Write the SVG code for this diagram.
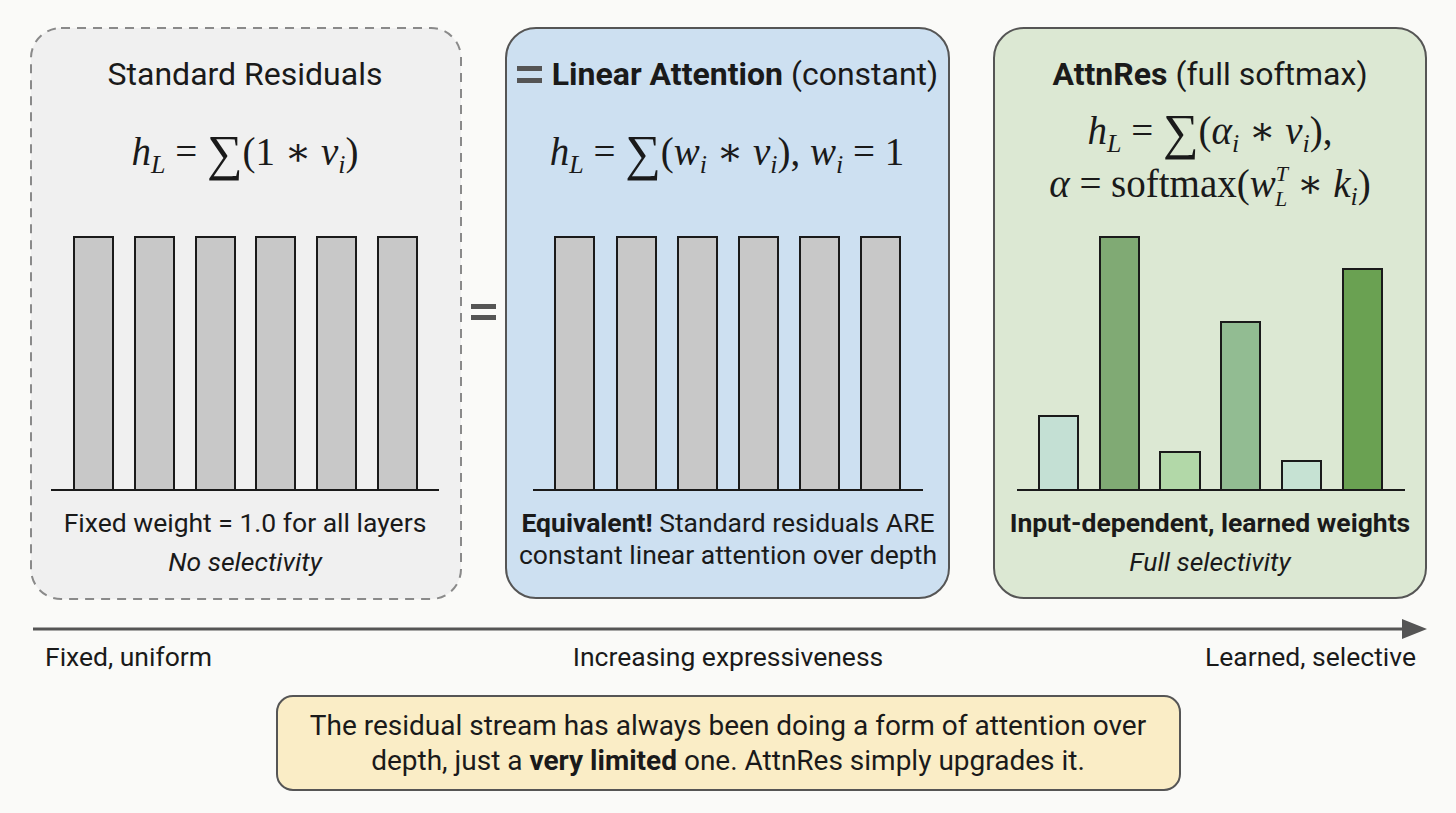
<svg xmlns="http://www.w3.org/2000/svg" width="1456" height="813" viewBox="0 0 1456 813">
<style>
.t{font-family:Roboto,"Liberation Sans",sans-serif;fill:#1a1a1a;text-anchor:middle}
.title{font-size:32px}
.lbl{font-size:26.5px}
.b{font-weight:bold}
.i{font-style:italic}
.m{font-family:"Liberation Serif","DejaVu Serif",serif;font-size:39px;fill:#1a1a1a;text-anchor:middle}
.v{font-style:italic}
.s{font-size:26px}
.sup{font-size:22px}
.sum{font-size:50px}
.bar{stroke:#1a1a1a;stroke-width:2}
.grey{fill:#c8c8c8}
.base{stroke:#1a1a1a;stroke-width:2}
</style>
<rect width="1456" height="813" fill="#fafaf8"/>

<g id="panel-standard">
<rect x="31" y="28" width="430" height="571" rx="30" fill="#f0f0f0" stroke="#8a8a8a" stroke-width="2" stroke-dasharray="9,7"/>
<text class="t title" x="245" y="85">Standard Residuals</text>
<text class="m" x="245" y="165"><tspan class="v">h</tspan><tspan class="v s" dy="8">L</tspan><tspan dy="-8"> = </tspan><tspan class="sum" dy="5">∑</tspan><tspan dy="-5">(1 ∗ </tspan><tspan class="v">v</tspan><tspan class="v s" dy="8">i</tspan><tspan dy="-8">)</tspan></text>
<g class="bar grey">
<rect x="74" y="237" width="39" height="253"/>
<rect x="135" y="237" width="39" height="253"/>
<rect x="196" y="237" width="39" height="253"/>
<rect x="256" y="237" width="39" height="253"/>
<rect x="317" y="237" width="39" height="253"/>
<rect x="378" y="237" width="39" height="253"/>
</g>
<line class="base" x1="51" y1="490" x2="439" y2="490"/>
<text class="t lbl" x="245" y="532">Fixed weight = 1.0 for all layers</text>
<text class="t lbl i" x="245" y="571">No selectivity</text>
</g>

<g id="equals">
<rect x="471" y="304" width="25" height="5" fill="#555"/>
<rect x="471" y="315" width="25" height="5" fill="#555"/>
</g>

<g id="panel-linear">
<rect x="506" y="28" width="443" height="570" rx="30" fill="#cde0f1" stroke="#555" stroke-width="2"/>
<rect x="517" y="66" width="25" height="5" fill="#555"/>
<rect x="517" y="78" width="25" height="5" fill="#555"/>
<text class="t title" x="745" y="85"><tspan class="b">Linear Attention</tspan> (constant)</text>
<text class="m" x="727" y="165"><tspan class="v">h</tspan><tspan class="v s" dy="8">L</tspan><tspan dy="-8"> = </tspan><tspan class="sum" dy="5">∑</tspan><tspan dy="-5">(</tspan><tspan class="v">w</tspan><tspan class="v s" dy="8">i</tspan><tspan dy="-8"> ∗ </tspan><tspan class="v">v</tspan><tspan class="v s" dy="8">i</tspan><tspan dy="-8">), </tspan><tspan class="v">w</tspan><tspan class="v s" dy="8">i</tspan><tspan dy="-8"> = 1</tspan></text>
<g class="bar grey">
<rect x="555" y="237" width="39" height="253"/>
<rect x="617" y="237" width="39" height="253"/>
<rect x="678" y="237" width="39" height="253"/>
<rect x="739" y="237" width="39" height="253"/>
<rect x="800" y="237" width="39" height="253"/>
<rect x="861" y="237" width="39" height="253"/>
</g>
<line class="base" x1="533" y1="490" x2="923" y2="490"/>
<text class="t lbl" x="728" y="532"><tspan class="b">Equivalent!</tspan> Standard residuals ARE</text>
<text class="t lbl" x="728" y="564">constant linear attention over depth</text>
</g>

<g id="panel-attnres">
<rect x="994" y="28" width="432" height="570" rx="30" fill="#dce8d3" stroke="#555" stroke-width="2"/>
<text class="t title" x="1210" y="85"><tspan class="b">AttnRes</tspan> (full softmax)</text>
<text class="m" x="1210" y="144"><tspan class="v">h</tspan><tspan class="v s" dy="8">L</tspan><tspan dy="-8"> = </tspan><tspan class="sum" dy="5">∑</tspan><tspan dy="-5">(</tspan><tspan class="v">α</tspan><tspan class="v s" dy="8">i</tspan><tspan dy="-8"> ∗ </tspan><tspan class="v">v</tspan><tspan class="v s" dy="8">i</tspan><tspan dy="-8">),</tspan></text>
<text class="m" x="1210" y="197"><tspan class="v">α</tspan> = softmax(<tspan class="v">w</tspan><tspan class="v sup" dy="-16">T</tspan><tspan class="v sup" dx="-13" dy="25">L</tspan><tspan dy="-9"> ∗ </tspan><tspan class="v">k</tspan><tspan class="v s" dy="8">i</tspan><tspan dy="-8">)</tspan></text>
<g class="bar">
<rect x="1039" y="416" width="39" height="74" fill="#c4e0d4"/>
<rect x="1100" y="237" width="39" height="253" fill="#80aa74"/>
<rect x="1160" y="452" width="40" height="38" fill="#b2d8a8"/>
<rect x="1221" y="322" width="39" height="168" fill="#92bc92"/>
<rect x="1282" y="461" width="39" height="29" fill="#c6e2d3"/>
<rect x="1343" y="269" width="39" height="221" fill="#6aa152"/>
</g>
<line class="base" x1="1017" y1="490" x2="1405" y2="490"/>
<text class="t lbl b" x="1210" y="532">Input-dependent, learned weights</text>
<text class="t lbl i" x="1210" y="571">Full selectivity</text>
</g>

<g id="connectors">
<line x1="33" y1="629" x2="1404" y2="629" stroke="#555" stroke-width="3"/>
<polygon points="1402,619 1427,629 1402,639" fill="#555"/>
</g>

<g id="axis-labels">
<text class="t lbl" x="45" y="666" style="text-anchor:start">Fixed, uniform</text>
<text class="t lbl" x="728" y="666">Increasing expressiveness</text>
<text class="t lbl" x="1416" y="666" style="text-anchor:end">Learned, selective</text>
</g>

<g id="note">
<rect x="277" y="696" width="903" height="94" rx="16" fill="#faedc6" stroke="#555" stroke-width="2"/>
<text class="t" x="728" y="735" style="font-size:28px">The residual stream has always been doing a form of attention over</text>
<text class="t" x="728" y="770" style="font-size:28px">depth, just a <tspan class="b">very limited</tspan> one. AttnRes simply upgrades it.</text>
</g>
</svg>
